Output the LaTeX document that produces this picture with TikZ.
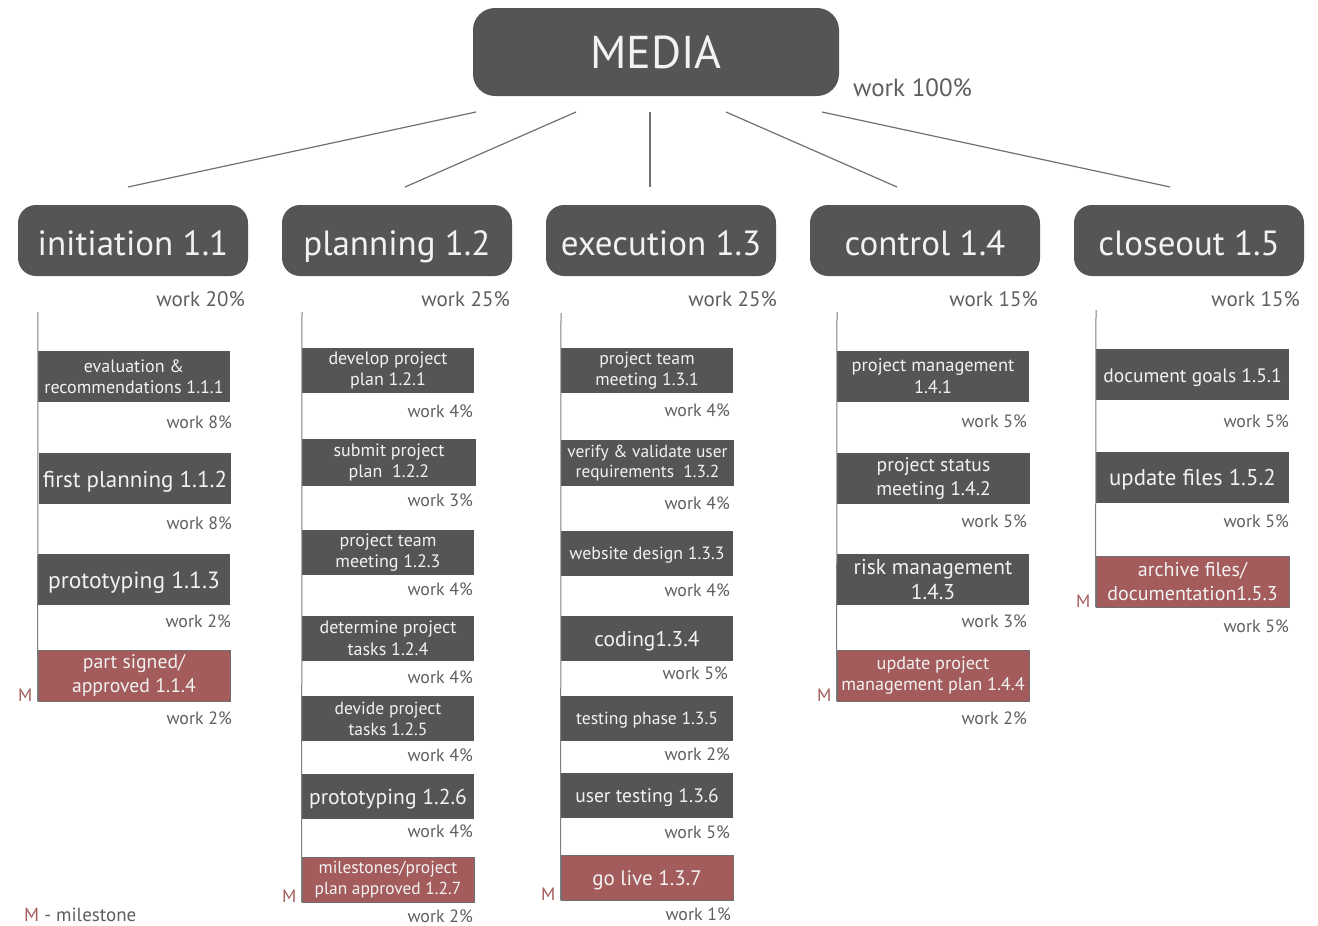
\documentclass[tikz,border=0pt]{standalone}
\usepackage{fontspec}
\setmainfont{PT Sans}
\definecolor{boxgray}{HTML}{555555}
\definecolor{mred}{HTML}{A35B5B}
\definecolor{txtgray}{HTML}{5E5E5E}
\definecolor{linegray}{HTML}{707070}
\definecolor{boxtext}{HTML}{F2F2F2}
\tikzset{
  % two-line labels: font size with a tight line spacing
  fsz/.style={font=\fontsize{#1}{\dimexpr #1pt*12/10\relax}\selectfont},
  % one-line labels: fixed ascent so every baseline sits at the same height
  one/.code={%
    \pgfmathsetlengthmacro\oneht{0.78*#1pt}%
    \edef\onenext{\noexpand\tikzset{font=\noexpand\fontsize{#1}{#1}\noexpand\selectfont,
      text height=\oneht, text depth=0pt}}\onenext},
  topbox/.style={fill=boxgray, rounded corners=22pt, minimum width=366pt, minimum height=88pt,
    text=boxtext, inner sep=0pt, font=\fontsize{46}{50}\selectfont},
  phase/.style={fill=boxgray, rounded corners=18pt, minimum width=230pt, minimum height=71pt,
    text=boxtext, inner sep=0pt, font=\fontsize{35}{40}\selectfont, text height=29pt, text depth=0pt},
  task/.style={fill=boxgray, inner sep=0pt, align=center, text=boxtext},
  mile/.style={fill=mred, draw=boxgray!85, line width=0.8pt, inner sep=0pt, align=center, text=boxtext},
  wide/.style={minimum width=192pt, minimum height=51pt},
  narrow/.style={minimum width=172pt, minimum height=45pt},
  wk/.style={text=txtgray, inner sep=0pt, anchor=east, font=\fontsize{17.8}{19}\selectfont},
  wkphase/.style={text=txtgray, inner sep=0pt, anchor=east, font=\fontsize{21}{23}\selectfont},
  mlabel/.style={text=mred, inner sep=0pt, anchor=base east, font=\fontsize{18}{20}\selectfont},
  link/.style={draw=linegray, line width=1.2pt},
  stem/.style={draw=linegray!90, line width=1pt}
}
\begin{document}
\begin{tikzpicture}[x=1pt, y=-1pt]
\useasboundingbox (0,0) rectangle (1318,926);

% root
\node[topbox] (media) at (656,52) {MEDIA};
\node[text=txtgray, inner sep=0pt, anchor=west, font=\fontsize{25}{27}\selectfont] (wmedia) at (853,88) {work 100\%};

% phases
\node[phase] (p1) at (133,240.5) {initiation 1.1};
\node[phase] (p2) at (397,240.5) {planning 1.2};
\node[phase] (p3) at (661,240.5) {execution 1.3};
\node[phase] (p4) at (925,240.5) {control 1.4};
\node[phase] (p5) at (1189,240.5) {closeout 1.5};

\node[wkphase] (wp1) at (245,299) {work 20\%};
\node[wkphase] (wp2) at (510,299) {work 25\%};
\node[wkphase] (wp3) at (777,299) {work 25\%};
\node[wkphase] (wp4) at (1038,299) {work 15\%};
\node[wkphase] (wp5) at (1300,299) {work 15\%};

% links from the root to the phases
\coordinate (r1) at (476,112); \coordinate (e1) at (128,187);
\coordinate (r2) at (576,112); \coordinate (e2) at (405,187);
\coordinate (r3) at (650,112); \coordinate (e3) at (650,187);
\coordinate (r4) at (726,112); \coordinate (e4) at (897,187);
\coordinate (r5) at (822,112); \coordinate (e5) at (1170,187);
\foreach \i in {1,...,5} \draw[link] (r\i) -- (e\i);

% column 1: initiation
\node[task, wide, fsz=18] (t111) at (134,376.5) {evaluation \&\\recommendations 1.1.1};
\node[task, wide, one=23] (t112) at (135,478.5) {first planning 1.1.2};
\node[task, wide, one=23.5] (t113) at (134,579.5) {prototyping 1.1.3};
\node[mile, wide, fsz=19.7] (m114) at (134,675.5) {part signed/\\approved 1.1.4};
\node[wk] (w111) at (232,422) {work 8\%};
\node[wk] (w112) at (232,523) {work 8\%};
\node[wk] (w113) at (231,621) {work 2\%};
\node[wk] (w114) at (232,718) {work 2\%};
\node[mlabel] (mk1) at ([xshift=-5pt]m114.south west) {M};
\coordinate (s1) at (38,312);
\draw[stem] (s1) -- (m114.south west);

% column 2: planning
\node[task, narrow, fsz=18] (t121) at (388,370.5) {develop project\\plan 1.2.1};
\node[task, narrow, fsz=18, minimum width=174pt, minimum height=47pt] (t122) at (389,462.5) {submit project\\plan\ \ 1.2.2};
\node[task, narrow, fsz=18] (t123) at (388,552.5) {project team\\meeting 1.2.3};
\node[task, narrow, fsz=18] (t124) at (388,638.5) {determine project\\tasks 1.2.4};
\node[task, narrow, fsz=17.6] (t125) at (388,718.5) {devide project\\tasks 1.2.5};
\node[task, narrow, one=21.6] (t126) at (388,796.5) {prototyping 1.2.6};
\node[mile, narrow, fsz=17.4] (m127) at (388,879.5) {milestones/project\\plan approved 1.2.7};
\node[wk] (w121) at (473,411) {work 4\%};
\node[wk] (w122) at (473,500) {work 3\%};
\node[wk] (w123) at (473,589) {work 4\%};
\node[wk] (w124) at (473,677) {work 4\%};
\node[wk] (w125) at (473,755) {work 4\%};
\node[wk] (w126) at (473,831) {work 4\%};
\node[wk] (w127) at (473,916) {work 2\%};
\node[mlabel] (mk2) at ([xshift=-5pt]m127.south west) {M};
\coordinate (s2) at (302,312);
\draw[stem] (s2) -- (m127.south west);

% column 3: execution
\node[task, narrow, fsz=17.7] (t131) at (647,370.5) {project team\\meeting 1.3.1};
\node[task, narrow, fsz=17.4, minimum width=173pt, minimum height=46pt] (t132) at (647.5,463) {verify \& validate user\\requirements\ \ 1.3.2};
\node[task, narrow, one=17.8] (t133) at (647,553) {website design 1.3.3};
\node[task, narrow, one=21.4] (t134) at (647,638.5) {coding1.3.4};
\node[task, narrow, one=17.6] (t135) at (647,718) {testing phase 1.3.5};
\node[task, narrow, one=19.5] (t136) at (647,795) {user testing 1.3.6};
\node[mile, narrow, one=21] (m137) at (647,877.5) {go live 1.3.7};
\node[wk] (w131) at (730,410) {work 4\%};
\node[wk] (w132) at (730,503) {work 4\%};
\node[wk] (w133) at (730,590) {work 4\%};
\node[wk] (w134) at (728,673) {work 5\%};
\node[wk] (w135) at (730,754) {work 2\%};
\node[wk] (w136) at (730,832) {work 5\%};
\node[wk] (w137) at (731,914) {work 1\%};
\node[mlabel] (mk3) at ([xshift=-5pt]m137.south west) {M};
\coordinate (s3) at (561,313);
\draw[stem] (s3) -- (m137.south west);

% column 4: control
\node[task, wide, fsz=18.4] (t141) at (933,376.5) {project management\\1.4.1};
\node[task, wide, fsz=19.6, minimum width=193pt] (t142) at (933.5,478.5) {project status\\meeting 1.4.2};
\node[task, wide, fsz=21.5] (t143) at (933,579.5) {risk management\\1.4.3};
\node[mile, wide, fsz=18.2] (m144) at (933,675.5) {update project\\management plan 1.4.4};
\node[wk] (w141) at (1027,421) {work 5\%};
\node[wk] (w142) at (1027,521) {work 5\%};
\node[wk] (w143) at (1027,621) {work 3\%};
\node[wk] (w144) at (1027,718) {work 2\%};
\node[mlabel] (mk4) at ([xshift=-5pt]m144.south west) {M};
\coordinate (s4) at (837,312);
\draw[stem] (s4) -- (m144.south west);

% column 5: closeout
\node[task, wide, one=19.5, minimum width=193pt] (t151) at (1192.5,374.5) {document goals 1.5.1};
\node[task, wide, one=22.8, minimum width=193pt] (t152) at (1192.5,477) {update files 1.5.2};
\node[mile, wide, fsz=20, minimum width=193pt] (m153) at (1192.5,581.5) {archive files/\\documentation1.5.3};
\node[wk] (w151) at (1289,421) {work 5\%};
\node[wk] (w152) at (1289,521) {work 5\%};
\node[wk] (w153) at (1289,626) {work 5\%};
\node[mlabel] (mk5) at ([xshift=-5pt]m153.south west) {M};
\coordinate (s5) at (1096,310);
\draw[stem] (s5) -- (m153.south west);

% legend
\node[inner sep=0pt, anchor=west, font=\fontsize{19}{21}\selectfont] (legend) at (24,915)
  {\textcolor{mred}{M} \textcolor{txtgray}{- milestone}};
\end{tikzpicture}
\end{document}
